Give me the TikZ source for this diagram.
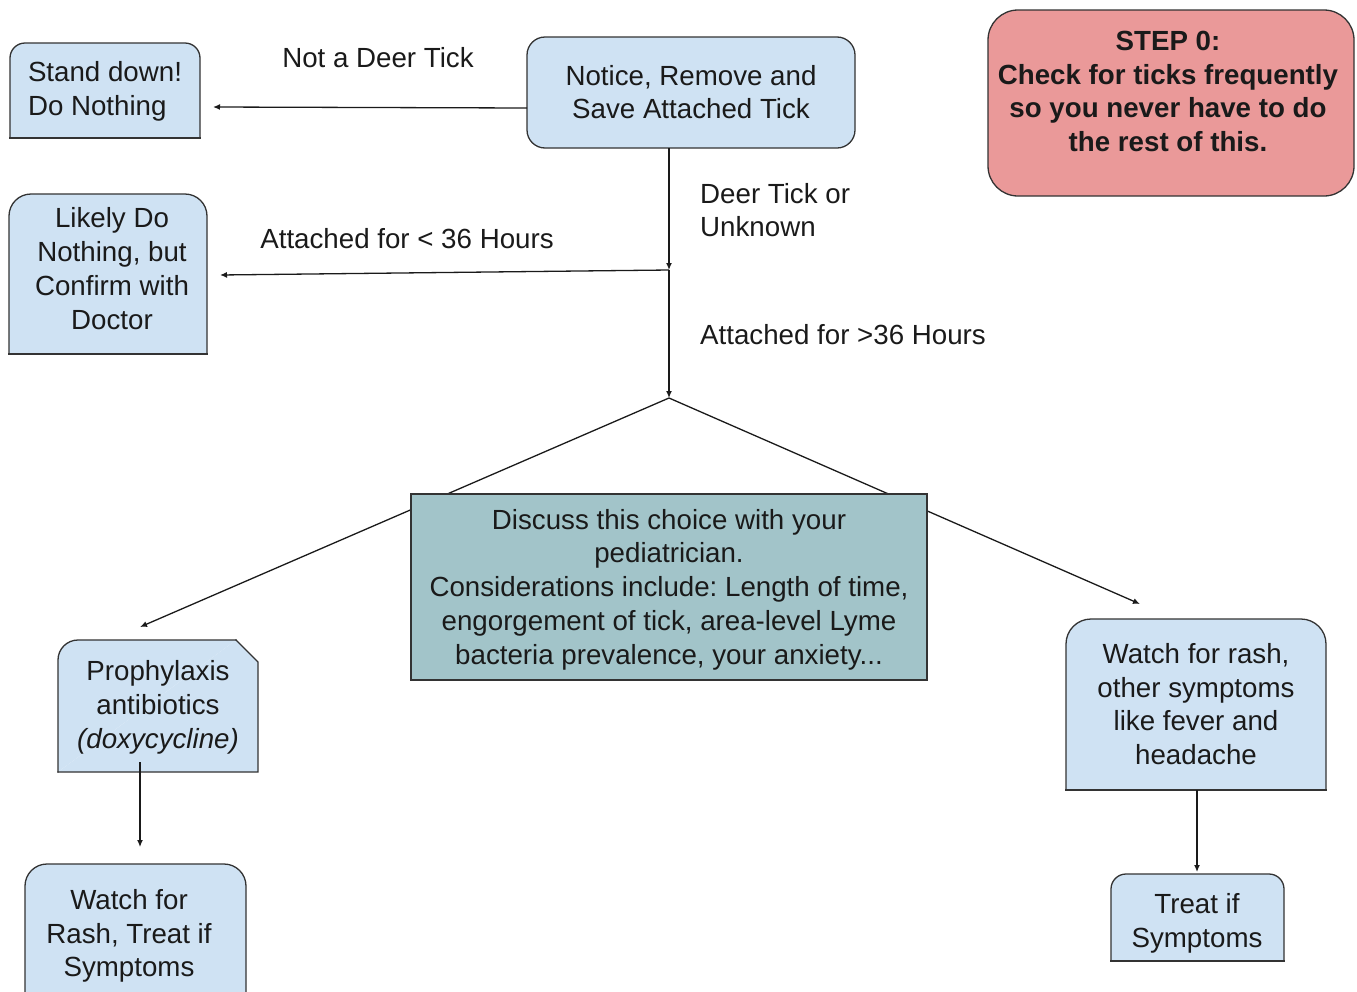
\documentclass[tikz,border=0pt]{standalone}
\usepackage{fontspec}
\setmainfont{Liberation Sans}
\usetikzlibrary{arrows.meta,backgrounds,calc}
\definecolor{lblue}{HTML}{CFE2F3}
\definecolor{tealbox}{HTML}{A2C4C9}
\definecolor{lred}{HTML}{EA9999}
\definecolor{edgec}{HTML}{333333}
\definecolor{ink}{HTML}{1A1A1A}
\frenchspacing
\newcommand{\fsz}{\fontsize{27.7pt}{33.8pt}\selectfont}
% top-rounded box behind node #1, radius #2, fill #3
\newcommand{\TopShape}[3]{%
  \begin{pgfonlayer}{background}
    \fill[#3, rounded corners=#2] (#1.south west) -- (#1.north west) -- (#1.north east) -- (#1.south east);
    \draw[boxline, rounded corners=#2] (#1.south west) -- (#1.north west) -- (#1.north east) -- (#1.south east);
    \draw[boxline] (#1.south west) -- (#1.south east);
  \end{pgfonlayer}}
\begin{document}
\begin{tikzpicture}[x=1pt, y=-1pt,
  boxshape/.style={rectangle, inner sep=0pt, outer sep=0pt},
  boxline/.style={draw=edgec, line width=1.3pt, line cap=rect},
  txt/.style={font=\fsz, text=ink, align=center, inner sep=0pt},
  conn/.style={draw=ink, line width=1.3pt, -{Latex[length=7pt,width=6pt]}}]
\useasboundingbox (0,0) rectangle (1357,991);

% ---- boxes (shapes) ----
\node[boxshape, minimum width=190pt, minimum height=95pt] (stand) at (105,90.5) {};
\TopShape{stand}{15pt}{lblue}
\node[boxshape, draw=edgec, line width=1.3pt, fill=lblue, rounded corners=18pt,
      minimum width=328pt, minimum height=111pt] (notice) at (691,92.5) {};
\node[boxshape, draw=edgec, line width=1.3pt, fill=lred, rounded corners=30pt,
      minimum width=366pt, minimum height=186pt] (step) at (1171,103) {};
\node[boxshape, minimum width=198pt, minimum height=160pt] (likely) at (108,274) {};
\TopShape{likely}{22pt}{lblue}
\node[boxshape, minimum width=200pt, minimum height=132pt] (proph) at (158,706) {};
\begin{pgfonlayer}{background}
  \fill[lblue, rounded corners=20pt] (proph.south west) -- (proph.north west) -- ($(proph.north east)+(-22,0)$);
  \fill[lblue] ($(proph.north east)+(-22,0)$) -- ($(proph.north east)+(0,22)$) -- (proph.south east) -- (proph.south west);
  \draw[boxline, rounded corners=20pt] (proph.south west) -- (proph.north west) -- ($(proph.north east)+(-22,0)$);
  \draw[boxline] ($(proph.north east)+(-22,0)$) -- ($(proph.north east)+(0,22)$) -- (proph.south east) -- (proph.south west);
\end{pgfonlayer}
\node[boxshape, minimum width=221pt, minimum height=144pt] (watchL) at (135.5,936) {};
\TopShape{watchL}{22pt}{lblue}
\node[boxshape, minimum width=260pt, minimum height=171pt] (watchR) at (1196,704.5) {};
\TopShape{watchR}{25pt}{lblue}
\node[boxshape, minimum width=173pt, minimum height=87pt] (treat) at (1197.5,917.5) {};
\TopShape{treat}{15pt}{lblue}

% ---- texts ----
\node[txt, align=left] (stand-t) at (105,91) {Stand down!\\Do Nothing};
\node[txt] (notice-t) at (691,92) {Notice, Remove and\\Save Attached Tick};
\node[txt, font=\fsz\bfseries] (step-t) at (1168,91.5) {STEP 0:\\Check for ticks frequently\\so you never have to do\\the rest of this.};
\node[txt] (likely-t) at (112,268.5) {Likely Do\\Nothing, but\\Confirm with\\Doctor};
\node[txt] (proph-t) at (158,707.5) {Prophylaxis\\antibiotics\\\textit{(doxycycline)}};
\node[txt] (watchL-t) at (129,936) {Watch for\\Rash, Treat if\\Symptoms};
\node[txt] (watchR-t) at (1196,704) {Watch for rash,\\other symptoms\\like fever and\\headache};
\node[txt] (treat-t) at (1197,923) {Treat if\\Symptoms};

% ---- edge labels ----
\node[txt] (lab1) at (378,58) {Not a Deer Tick};
\node[txt, align=left, anchor=west] (lab2) at (700,210) {Deer Tick or\\Unknown};
\node[txt] (lab3) at (407,239) {Attached for < 36 Hours};
\node[txt, anchor=west] (lab4) at (700,335) {Attached for >36 Hours};

% ---- connector points ----
\coordinate (j1) at (669,270);
\coordinate (apex) at (669,398);
\coordinate (standin) at (213,107);
\coordinate (likelyin) at (220,275);
\coordinate (prophin) at (140,627);
\coordinate (watchRin) at (1140,604);
\coordinate (prophout) at (140,762);
\coordinate (watchLin) at (140,847);
\coordinate (treatin) at (1197,872);

% ---- connectors ----
\draw[conn] (notice.west |- 0,108) -- (standin);
\draw[conn] (notice.south -| j1) -- (j1);
\draw[conn] (j1) -- (likelyin);
\draw[conn] (j1) -- (apex);
\draw[conn] (apex) -- (prophin);
\draw[conn] (apex) -- (watchRin);

% discuss box drawn over the two diagonal arrows
\node[boxshape, draw=edgec, line width=1.3pt, fill=tealbox,
      minimum width=516pt, minimum height=186pt] (discuss) at (669,587) {};
\node[txt] (discuss-t) at (669,589.5)
  {Discuss this choice with your\\pediatrician.\\Considerations include: Length of time,\\engorgement of tick, area-level Lyme\\bacteria prevalence, your anxiety...};

\draw[conn] (prophout) -- (watchLin);
\draw[conn] (watchR.south -| treatin) -- (treatin);
\end{tikzpicture}
\end{document}
